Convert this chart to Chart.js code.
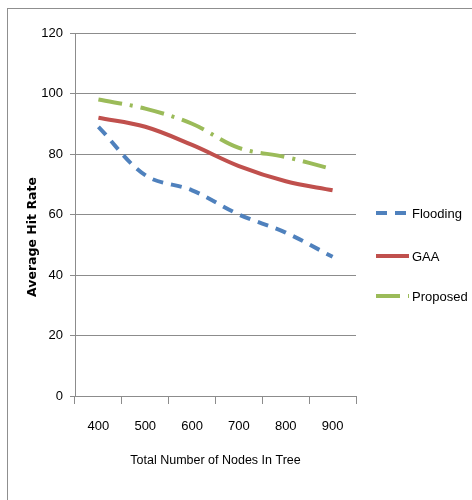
<!DOCTYPE html>
<html>
<head>
<meta charset="utf-8">
<script src="https://cdn.jsdelivr.net/npm/chart.js@4/dist/chart.umd.min.js"></script>
<style>
  html, body { margin: 0; padding: 0; background: #fff; }
  #wrap { position: relative; width: 472px; height: 500px; overflow: hidden; }
  #frame { position: absolute; left: 7px; top: 8px; width: 480px; height: 500px;
           border-top: 1px solid #8f8f8f; border-left: 1px solid #8f8f8f; }
  canvas { position: absolute; left: 0; top: 0; }
</style>
</head>
<body>
<div id="wrap">
  <div id="frame"></div>
  <canvas id="c" width="472" height="500"></canvas>
</div>
<script>
// Hit rate against tree size
const categories = ['400', '500', '600', '700', '800', '900'];
const flooding = [89, 73, 68, 60, 54, 46];
const gaa = [92, 89, 83, 76, 71, 68];
const proposed = [98, 95, 90, 82, 79, 75];
const yTicks = [0, 20, 40, 60, 80, 100, 120];
const xTitle = 'Total Number of Nodes In Tree';
const yTitle = 'Average Hit Rate';

const FONT = "'Liberation Sans Narrow', 'Arial Narrow', 'Liberation Sans', sans-serif";
const GRID = '#8c8c8c';

// Legend drawn to the right of the plot, one row per series
const sideLegend = {
  id: 'sideLegend',
  afterDraw(chart) {
    const ctx = chart.ctx;
    const left = chart.chartArea.right + 20;
    const rows = [213, 256, 296];
    chart.data.datasets.forEach((ds, i) => {
      const y = rows[i];
      ctx.save();
      ctx.strokeStyle = ds.borderColor;
      ctx.lineWidth = ds.borderWidth;
      ctx.setLineDash(ds.borderDash || []);
      ctx.beginPath();
      ctx.moveTo(left, y);
      ctx.lineTo(left + 33, y);
      ctx.stroke();
      ctx.setLineDash([]);
      ctx.fillStyle = '#000';
      ctx.font = '13px ' + FONT;
      ctx.textBaseline = 'middle';
      ctx.textAlign = 'left';
      ctx.fillText(ds.label, left + 36, y + 1);
      ctx.restore();
    });
  }
};

// Bold vertical axis title
const yAxisTitle = {
  id: 'yAxisTitle',
  afterDraw(chart) {
    const ctx = chart.ctx;
    ctx.save();
    ctx.translate(33, 237);
    ctx.rotate(-Math.PI / 2);
    ctx.fillStyle = '#000';
    ctx.font = "bold 12.5px 'DejaVu Sans', sans-serif";
    ctx.textAlign = 'center';
    ctx.textBaseline = 'middle';
    ctx.fillText(yTitle, 0, 0);
    ctx.restore();
  }
};

new Chart(document.getElementById('c'), {
  type: 'line',
  data: {
    labels: categories,
    datasets: [
      { label: 'Flooding', data: flooding, borderColor: '#4f81bd', borderWidth: 4,
        borderDash: [11, 8] },
      { label: 'GAA', data: gaa, borderColor: '#c0504d', borderWidth: 4 },
      { label: 'Proposed', data: proposed, borderColor: '#9bbb59', borderWidth: 4,
        borderDash: [24, 8, 3, 8] }
    ]
  },
  options: {
    responsive: false,
    devicePixelRatio: 1,
    animation: false,
    layout: { padding: { left: 0, right: 116, top: 33, bottom: 0 } },
    elements: {
      point: { radius: 0, hoverRadius: 0 },
      line: { tension: 0.35, fill: false }
    },
    plugins: {
      legend: { display: false },
      tooltip: { enabled: false }
    },
    scales: {
      x: {
        type: 'category',
        offset: true,
        grid: { drawOnChartArea: false, offset: true, drawTicks: true, tickLength: 8, color: GRID },
        border: { color: GRID, width: 1 },
        ticks: { color: '#000', font: { size: 13, family: FONT }, padding: 15, maxRotation: 0 },
        title: { display: true, text: xTitle, color: '#000', font: { size: 12.5, family: FONT },
                 padding: { top: 0, bottom: 32 } },
        afterFit(scale) { scale.height = 104; }
      },
      y: {
        min: 0,
        max: 120,
        afterBuildTicks(scale) { scale.ticks = yTicks.map(v => ({ value: v })); },
        grid: { color: GRID, tickLength: 5, lineWidth: 1 },
        border: { color: GRID, width: 1 },
        ticks: { color: '#000', font: { size: 13, family: FONT }, padding: 7 },
        afterFit(scale) { scale.width = 75; }
      }
    }
  },
  plugins: [sideLegend, yAxisTitle]
});
</script>
</body>
</html>
